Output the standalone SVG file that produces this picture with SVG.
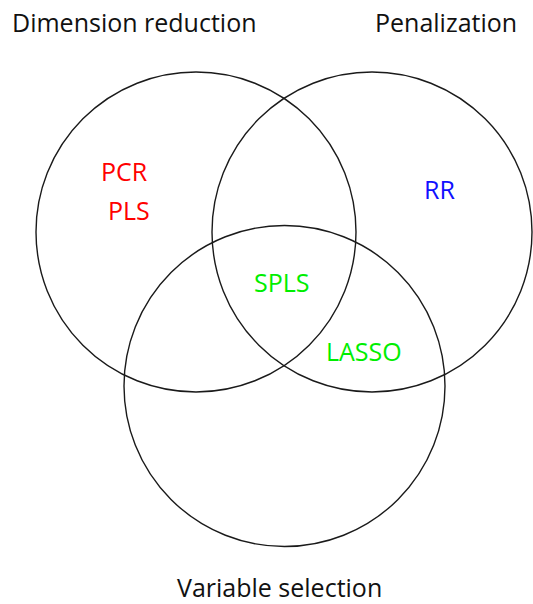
<svg xmlns="http://www.w3.org/2000/svg" width="533" height="604" viewBox="0 0 533 604">
<style>
.c{fill:none;stroke:#1a1a1a;stroke-width:1.4}
.t{font-family:"Open Sans","Liberation Sans",sans-serif;font-size:25px;fill:#111}
.l{font-family:"Open Sans","Liberation Sans",sans-serif;font-size:25px}
</style>
<rect width="533" height="604" fill="#fff"/>
<g id="dimension-reduction">
<circle class="c" cx="196" cy="232" r="160"/>
<text class="t" x="12" y="32">Dimension reduction</text>
</g>
<g id="penalization">
<circle class="c" cx="372" cy="232" r="160"/>
<text class="t" x="375" y="32">Penalization</text>
</g>
<g id="variable-selection">
<circle class="c" cx="284.5" cy="386" r="160.5"/>
<text class="t" x="177" y="597">Variable selection</text>
</g>
<g id="labels">
<text class="l" x="101" y="181" fill="#ff0000">PCR</text>
<text class="l" x="108" y="220" fill="#ff0000">PLS</text>
<text class="l" x="424" y="199" fill="#1010ff">RR</text>
<text class="l" x="254" y="292" fill="#00ee00">SPLS</text>
<text class="l" x="326" y="361" fill="#00ee00">LASSO</text>
</g>
<g id="connectors"></g>
</svg>
